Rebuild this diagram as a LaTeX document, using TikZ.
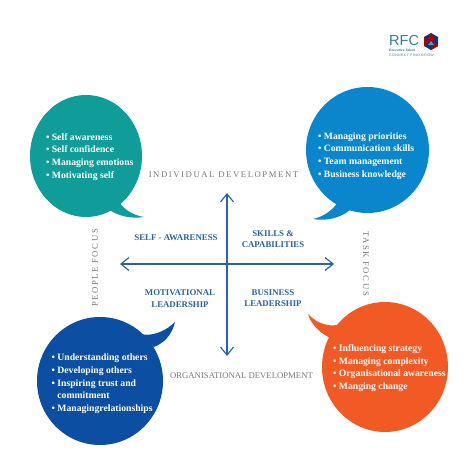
\documentclass[tikz,border=0pt]{standalone}
\usepackage{fontspec}
\setmainfont{Liberation Serif}
\newfontfamily\logofont{Liberation Sans}
\usetikzlibrary{arrows.meta}
\definecolor{tealc}{HTML}{109C98}
\definecolor{skyc}{HTML}{0A86CC}
\definecolor{bluec}{HTML}{0B4EA2}
\definecolor{orangec}{HTML}{F15A24}
\definecolor{greyc}{HTML}{77787B}
\definecolor{headc}{HTML}{2B62A8}
\definecolor{logoc}{HTML}{2F7F96}
\def\bul{\textbullet\ }
\tikzset{
	bubble/.style={font=\bfseries\fontsize{9.7}{12.7}\selectfont,text=white,align=left,anchor=west},
	quad/.style={font=\bfseries\fontsize{8.8}{11.4}\selectfont,text=headc,align=center},
	axislabel/.style={font=\fontsize{8.7}{10}\selectfont,text=greyc},
	logotext/.style={text=logoc,anchor=west,inner sep=0pt},
}
\begin{document}
\begin{tikzpicture}[x=1pt,y=-1pt,>={Straight Barb[length=8pt,width=13pt]}]
		\useasboundingbox (0,0) rectangle (474,474);
		
		\coordinate (T)at(227,193);
		\coordinate (D)at(227,356);
		\coordinate (L)at(120,264);
		\coordinate (R)at(334,264);
		
		% speech bubbles
		\fill[tealc](86,156)ellipse[x radius=56,y radius=61];
		\fill[tealc](118,200)..controls(123,209)and(132,215)..(144,217)..controls(130,219)and(118,216)..(108,209)--cycle;
		\fill[skyc](367.5,150)ellipse[x radius=61.5,y radius=63];
		\fill[skyc](338,202)..controls(333,210)and(323,217)..(313,219)..controls(325,221)and(339,219)..(350,210)--cycle;
		\fill[bluec](100,381)ellipse[x radius=63,y radius=64];
		\fill[bluec](140,334)..controls(152,337)and(166,331)..(175,322)..controls(172,335)and(164,343)..(154,347)--cycle;
		\fill[orangec](385,367)ellipse[x radius=63,y radius=65];
		\fill[orangec](345,323)..controls(332,328)and(318,325)..(308,314)..controls(311,324)and(318,332)..(332,339)--cycle;
		
		% axes
		\draw[headc,line width=1.2pt,<->](D)--(T);
		\draw[headc,line width=1.2pt,<->](L)--(R);
		
		\node[bubble](self)at(42.5,157){\bul Self awareness\\\bul Self confidence\\\bul Managing emotions\\\bul Motivating self};
		\node[bubble](task)at(314.5,156){\bul Managing priorities\\\bul Communication skills\\\bul Team management\\\bul Business knowledge};
		\node[bubble](others)at(48,384){\bul Understanding others\\\bul Developing others\\\bul Inspiring trust and\\\phantom{\bul}commitment\\\bul Managingrelationships};
		\node[bubble](change)at(329.5,368){\bul Influencing strategy\\\bul Managing complexity\\\bul Organisational awareness\\\bul Manging change};
		
		\node[quad](sa)at(176,238){SELF - AWARENESS};
		\node[quad](sc)at(273,239){SKILLS \&\\CAPABILITIES};
		\node[quad](ml)at(180,298.5){MOTIVATIONAL\\LEADERSHIP};
		\node[quad](bl)at(273,298){BUSINESS\\LEADERSHIP};
		
		\node[axislabel](id)at(223.5,175){\addfontfeature{LetterSpace=18}INDIVIDUAL DEVELOPMENT};
		\node[axislabel](od)at(241.5,376){ORGANISATIONAL DEVELOPMENT};
		\node[axislabel,rotate=90](pf)at(95,268){\addfontfeature{LetterSpace=18}PEOPLE FOCUS};
		\node[axislabel,rotate=-90](tf)at(366,263.5){\addfontfeature{LetterSpace=18}TASK FOCUS};
		
		% logo
		\node[logotext,font=\logofont\fontsize{14.5}{14.5}\selectfont](rfc)at(389,40.5){RFC};
		\node[logotext,font=\logofont\bfseries\fontsize{3.3}{4}\selectfont](et)at(389,50){Executive Talent};
		\node[logotext,font=\logofont\fontsize{3.5}{4}\selectfont](cfg)at(389,55){\addfontfeature{LetterSpace=12}CONNECT FIND GROW};
		\fill[bluec!70!black](431,33)--(438,37)--(438,46)--(431,50)--(424,46)--(424,37)--cycle;
		\fill[red!70!black](431,33)--(435,41)--(427,41)--cycle;
		\fill[red!70!black](438,46)--(431,50)--(434,43)--cycle;
		\fill[red!70!black](424,37)--(428,43)--(424,46)--cycle;
		\fill[logoc!80!white](431,41)--(434,45)--(428,45)--cycle;
	\end{tikzpicture}
\end{document}
